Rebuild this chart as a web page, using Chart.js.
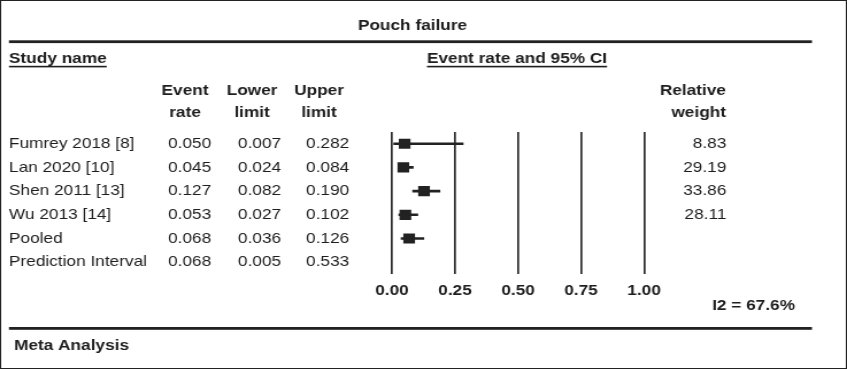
<!DOCTYPE html>
<html>
<head>
<meta charset="utf-8">
<script src="https://cdn.jsdelivr.net/npm/chart.js@4.4.1/dist/chart.umd.min.js"></script>
<style>
  html, body { margin: 0; padding: 0; background: #fff; overflow: hidden; }
  /* the source picture is stretched sideways, so the canvas is too */
  #forest { display: block; transform: scaleX(1.14925); transform-origin: 0 0; }
</style>
</head>
<body>
<canvas id="forest" width="737" height="369"></canvas>
<script>
// Data
const studies = ['Fumrey 2018 [8]', 'Lan 2020 [10]', 'Shen 2011 [13]', 'Wu 2013 [14]', 'Pooled', 'Prediction Interval'];
const eventRate = [0.050, 0.045, 0.127, 0.053, 0.068, 0.068];
const lowerLimit = [0.007, 0.024, 0.082, 0.027, 0.036, 0.005];
const upperLimit = [0.282, 0.084, 0.190, 0.102, 0.126, 0.533];
const relWeight = [8.83, 29.19, 33.86, 28.11, null, null];
const plotted = [true, true, true, true, true, false];
const xTicks = [0, 0.25, 0.5, 0.75, 1];
const heterogeneity = 'I2 = 67.6%';

const INK = '#1e1e1e';
const FONT = '"Liberation Sans", Arial, Helvetica, sans-serif';

function txt(ctx, s, x, y, align, bold, underline) {
    ctx.font = (bold ? 'bold ' : '') + '15px ' + FONT;
    ctx.textAlign = align;
    ctx.textBaseline = 'middle';
    ctx.fillStyle = INK;
    ctx.fillText(s, x, y);
    if (underline) {
        const w = ctx.measureText(s).width;
        const x0 = align === 'left' ? x : align === 'right' ? x - w : x - w / 2;
        ctx.fillRect(x0, y + 6.8, w, 1.6);
    }
}

// Table text, rules and frame around the plot
const tablePlugin = {
    id: 'table',
    beforeDraw(chart) {
        const ctx = chart.ctx;
        ctx.save();
        ctx.fillStyle = '#fff';
        ctx.fillRect(0, 0, chart.width, chart.height);
        ctx.restore();
    },
    afterDraw(chart) {
        const ctx = chart.ctx;
        const y = chart.scales.y;
        ctx.save();

        // frame
        ctx.strokeStyle = '#222';
        ctx.lineWidth = 1;
        ctx.strokeRect(0.5, 0.5, chart.width - 1, chart.height - 1);

        // rules
        ctx.fillStyle = '#222';
        ctx.fillRect(7.8, 40.3, 698.7, 2.8);
        ctx.fillRect(7.8, 327, 698.7, 2.8);

        txt(ctx, 'Pouch failure', 358.9, 25.5, 'center', true);
        txt(ctx, 'Study name', 7.8, 59, 'left', true, true);
        txt(ctx, 'Event rate and 95% CI', 371.5, 59, 'left', true, true);

        txt(ctx, 'Event', 161, 91, 'center', true);
        txt(ctx, 'rate', 161, 112.5, 'center', true);
        txt(ctx, 'Lower', 219.3, 91, 'center', true);
        txt(ctx, 'limit', 219.3, 112.5, 'center', true);
        txt(ctx, 'Upper', 277.6, 91, 'center', true);
        txt(ctx, 'limit', 277.6, 112.5, 'center', true);
        txt(ctx, 'Relative', 631.7, 91, 'right', true);
        txt(ctx, 'weight', 631.7, 112.5, 'right', true);

        studies.forEach((name, i) => {
            const py = y.getPixelForValue(i);
            txt(ctx, name, 7.8, py, 'left', false);
            txt(ctx, eventRate[i].toFixed(3), 146.2, py, 'left', false);
            txt(ctx, lowerLimit[i].toFixed(3), 207.1, py, 'left', false);
            txt(ctx, upperLimit[i].toFixed(3), 266.3, py, 'left', false);
            if (relWeight[i] !== null) {
                txt(ctx, relWeight[i].toFixed(2), 632, py, 'right', false);
            }
        });

        txt(ctx, heterogeneity, 691.8, 305.8, 'right', true);
        txt(ctx, 'Meta Analysis', 12.2, 345.8, 'left', true);
        ctx.restore();
    }
};

new Chart(document.getElementById('forest'), {
    type: 'bar',
    data: {
        labels: studies,
        datasets: [{
            type: 'scatter',
            data: studies.map((s, i) => ({ x: eventRate[i], y: s })).filter((p, i) => plotted[i]),
            pointStyle: 'rect',
            pointRadius: 7.2,
            backgroundColor: '#222',
            borderColor: '#222',
            borderWidth: 0
        }, {
            type: 'bar',
            indexAxis: 'y',
            data: studies.map((s, i) => plotted[i] ? [lowerLimit[i], upperLimit[i]] : null),
            barThickness: 2,
            backgroundColor: '#222',
            borderWidth: 0
        }]
    },
    plugins: [tablePlugin],
    options: {
        responsive: false,
        animation: false,
        events: [],
        devicePixelRatio: 1,
        layout: { padding: { left: 341.1, right: 176.6, top: 131.9, bottom: 69 } },
        plugins: { legend: { display: false }, tooltip: { enabled: false } },
        scales: {
            x: {
                type: 'linear',
                min: 0,
                max: 1,
                offset: false,
                afterBuildTicks: s => { s.ticks = xTicks.map(v => ({ value: v })); },
                afterFit: s => { s.height = 26; },
                grid: { color: '#2a2a2a', lineWidth: 1.7, drawTicks: false, offset: false },
                border: { display: false },
                ticks: {
                    padding: 8,
                    color: INK,
                    font: { family: FONT, size: 15, weight: 'bold' },
                    callback: v => Number(v).toFixed(2)
                }
            },
            y: {
                type: 'category',
                offset: true,
                display: false
            }
        }
    }
});
</script>
</body>
</html>
